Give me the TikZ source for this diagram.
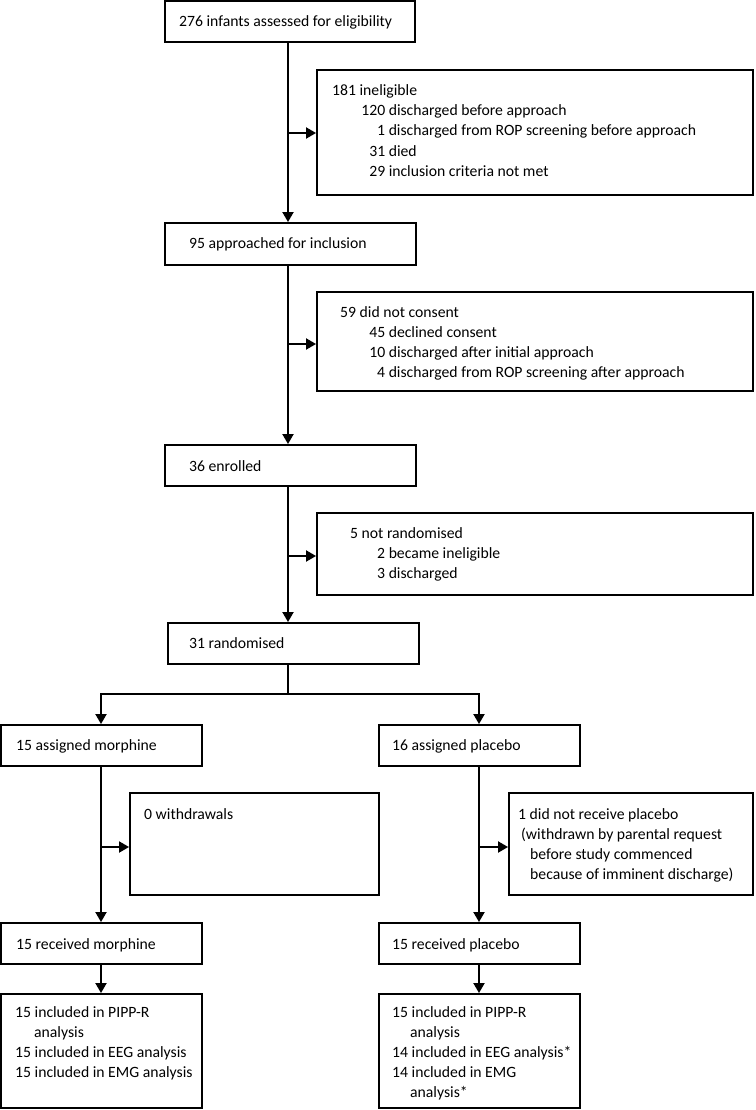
\documentclass[tikz,border=0pt]{standalone}
\usepackage{fontspec}
\setmainfont{Carlito}
\usetikzlibrary{arrows.meta,fit}
\tikzset{
  box/.style={draw, line width=1.9pt, inner sep=0pt},
  conn/.style={line width=1.9pt},
  arr/.style={conn, -{Triangle[length=10pt,width=11pt]}},
  txt/.style={anchor=base west, inner sep=0pt, align=left, font=\fontsize{15.7}{20}\selectfont},
}
\newcommand\rn[2]{\makebox[#1][r]{#2}}
\begin{document}
\begin{tikzpicture}[x=1pt,y=-1pt]
\useasboundingbox (0,0) rectangle (755,1110);
% boxes
\node[box, fit={(165,1) (415,42)}] (b1) {};
\node[box, fit={(317,70) (753,195)}] (s1) {};
\node[box, fit={(165,223) (416,265)}] (b2) {};
\node[box, fit={(317,292) (753,391)}] (s2) {};
\node[box, fit={(165,445) (416,486)}] (b3) {};
\node[box, fit={(317,513) (753,595)}] (s3) {};
\node[box, fit={(168,623) (419,664)}] (b4) {};
\node[box, fit={(1,725) (202,766)}] (m1) {};
\node[box, fit={(379,725) (580,766)}] (p1) {};
\node[box, fit={(130,793) (379,895)}] (mw) {};
\node[box, fit={(509,793) (753,895)}] (pw) {};
\node[box, fit={(1,923) (202,964)}] (m2) {};
\node[box, fit={(379,923) (580,964)}] (p2) {};
\node[box, fit={(1,994) (202,1108)}] (m3) {};
\node[box, fit={(379,994) (580,1108)}] (p3) {};
% texts (multi-line nodes are placed by the baseline of their last line)
\node[txt] (t1) at (179,27) {276 infants assessed for eligibility};
\node[txt] (ts1) at (332,176) {181 ineligible\\\rn{53pt}{120} discharged before approach\\\rn{53pt}{1} discharged from ROP screening before approach\\\rn{53pt}{31} died\\\rn{53pt}{29} inclusion criteria not met};
\node[txt] (t2) at (189,248) {95 approached for inclusion};
\node[txt] (ts2) at (340,377) {59 did not consent\\\rn{45pt}{45} declined consent\\\rn{45pt}{10} discharged after initial approach\\\rn{45pt}{4} discharged from ROP screening after approach};
\node[txt] (t3) at (189,471) {36 enrolled};
\node[txt] (ts3) at (350,578) {5 not randomised\\\rn{35pt}{2} became ineligible\\\rn{35pt}{3} discharged};
\node[txt] (t4) at (189,648) {31 randomised};
\node[txt] (tm1) at (16,750) {15 assigned morphine};
\node[txt] (tp1) at (392,750) {16 assigned placebo};
\node[txt] (tmw) at (144,819) {0 withdrawals};
\node[txt] (tpw) at (518,879) {1 did not receive placebo\\\hspace*{3pt}(withdrawn by parental request\\\hspace*{12pt}before study commenced\\\hspace*{12pt}because of imminent discharge)};
\node[txt] (tm2) at (16,949) {15 received morphine};
\node[txt] (tp2) at (392,949) {15 received placebo};
\node[txt] (tm3) at (15,1077) {15 included in PIPP-R\\\hspace*{19pt}analysis\\15 included in EEG analysis\\15 included in EMG analysis};
\node[txt] (tp3) at (392,1097) {15 included in PIPP-R\\\hspace*{18pt}analysis\\14 included in EEG analysis*\\14 included in EMG\\\hspace*{18pt}analysis*};
% connectors
\coordinate (tx) at (288,0);
\coordinate (lx) at (101,0);
\coordinate (rx) at (479,0);
\draw[arr] (b1.south -| tx) -- (b2.north -| tx);
\coordinate (j1) at (288,133);
\draw[arr] (j1) -- (s1.west |- j1);
\draw[arr] (b2.south -| tx) -- (b3.north -| tx);
\coordinate (j2) at (288,344);
\draw[arr] (j2) -- (s2.west |- j2);
\draw[arr] (b3.south -| tx) -- (b4.north -| tx);
\coordinate (j3) at (288,556);
\draw[arr] (j3) -- (s3.west |- j3);
\coordinate (sp) at (288,694);
\draw[conn] (b4.south -| sp) -- (sp);
\draw[arr] (sp) -| (m1.north -| lx);
\draw[arr] (sp) -| (p1.north -| rx);
\draw[arr] (m1.south -| lx) -- (m2.north -| lx);
\coordinate (j4) at (101,847);
\draw[arr] (j4) -- (mw.west |- j4);
\draw[arr] (p1.south -| rx) -- (p2.north -| rx);
\coordinate (j5) at (479,847);
\draw[arr] (j5) -- (pw.west |- j5);
\draw[arr] (m2.south -| lx) -- (m3.north -| lx);
\draw[arr] (p2.south -| rx) -- (p3.north -| rx);
\end{tikzpicture}
\end{document}
